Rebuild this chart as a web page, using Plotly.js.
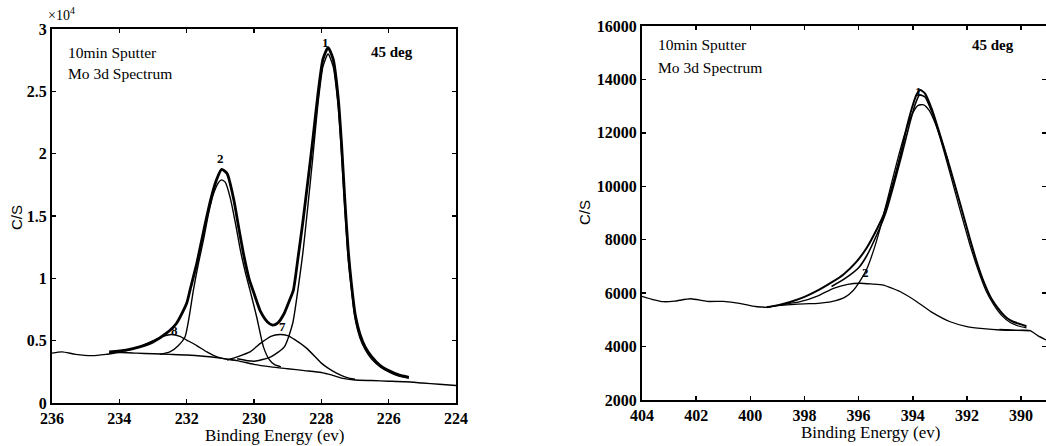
<!DOCTYPE html>
<html>
<head>
<meta charset="utf-8">
<script src="https://cdn.plot.ly/plotly-3.0.1.min.js"></script>
<style>html,body{margin:0;padding:0;background:#fff;}#chart{width:1046px;height:446px;}</style>
</head>
<body>
<div id="chart"></div>
<script>
// ---------- Left panel: Mo 3d (C/S in units of 10^4) ----------
const L_bgE = [236.0,235.7,235.3,234.8,234.4,234.0,233.5,233.0,232.5,232.0,231.5,231.0,230.5,230.0,229.5,229.0,228.5,228.0,227.7,227.4,227.0,226.5,226.0,225.5,225.0,224.5,224.0];
const L_bgY = [0.40,0.41,0.39,0.38,0.39,0.405,0.40,0.395,0.39,0.385,0.375,0.36,0.34,0.31,0.29,0.275,0.26,0.245,0.225,0.20,0.185,0.18,0.175,0.17,0.16,0.15,0.14];

const L_envE = [234.3,233.8,233.4,233.0,232.6,232.3,232.0,231.9,231.7,231.55,231.4,231.25,231.1,230.96,230.8,230.6,230.45,230.3,230.15,230.0,229.8,229.6,229.45,229.3,229.1,228.95,228.83,228.7,228.55,228.4,228.25,228.1,227.95,227.8,227.65,227.5,227.4,227.3,227.2,227.1,227.0,226.85,226.7,226.5,226.25,226.0,225.7,225.4];
const L_envY = [0.41,0.425,0.45,0.49,0.56,0.64,0.80,0.906,1.12,1.31,1.50,1.67,1.80,1.874,1.84,1.63,1.40,1.18,1.00,0.88,0.73,0.65,0.625,0.64,0.72,0.82,0.906,1.15,1.45,1.78,2.12,2.48,2.76,2.85,2.76,2.45,2.08,1.62,1.22,0.94,0.72,0.55,0.45,0.37,0.30,0.26,0.225,0.205];

const L_p1E = [230.5,230.0,229.5,229.1,228.85,228.7,228.55,228.4,228.25,228.1,227.95,227.8,227.65,227.5,227.4,227.3,227.2,227.1,227.0,226.85,226.7,226.5,226.25,226.0,225.7,225.4];
const L_p1Y = [0.355,0.335,0.37,0.45,0.64,0.90,1.20,1.58,1.98,2.40,2.70,2.80,2.70,2.38,2.00,1.55,1.15,0.90,0.68,0.52,0.43,0.35,0.29,0.25,0.215,0.20];

const L_p2E = [232.8,232.5,232.25,232.05,231.92,231.8,231.65,231.5,231.35,231.2,231.05,230.96,230.85,230.7,230.55,230.4,230.25,230.12,229.92,229.72,229.55,229.4,229.2];
const L_p2Y = [0.39,0.41,0.46,0.53,0.70,0.906,1.12,1.31,1.52,1.68,1.77,1.79,1.77,1.64,1.44,1.22,1.04,0.906,0.69,0.45,0.35,0.31,0.29];

const L_p7E = [230.8,230.5,230.12,229.8,229.5,229.23,229.0,228.8,228.44,228.0,227.8,227.55,227.3,227.15,227.0];
const L_p7Y = [0.345,0.37,0.41,0.48,0.535,0.55,0.54,0.51,0.44,0.32,0.28,0.24,0.21,0.198,0.19];

const L_p8E = [234.3,233.8,233.4,233.0,232.7,232.45,232.2,232.0,231.7,231.4,231.1,230.8,230.5];
const L_p8Y = [0.405,0.42,0.45,0.50,0.535,0.55,0.535,0.505,0.46,0.41,0.37,0.35,0.34];

const L_labels = ["1","2","8","7"];
const L_labE = [227.89,231.0,232.35,229.14];
const L_labY = [2.89,1.96,0.585,0.61];

// ---------- Right panel (C/S) ----------
const R_rawE = [404.0,403.6,403.2,402.8,402.2,401.6,401.0,400.4,399.8,399.4];
const R_rawY = [5880,5760,5680,5700,5790,5690,5690,5620,5500,5470];
const R_tailE = [390.8,390.2,389.67,389.4,389.08];
const R_tailY = [4640,4610,4595,4420,4247];

const R_envE = [399.4,398.9,398.5,398.0,397.42,397.0,396.56,396.1,395.7,395.3,395.09,394.8,394.47,394.2,393.98,393.85,393.73,393.55,393.3,393.0,392.63,392.25,391.88,391.6,391.39,391.1,390.77,390.5,390.29,390.0,389.8];
const R_envY = [5470,5570,5680,5860,6150,6400,6700,7150,7700,8450,8900,9850,11100,12300,13100,13450,13600,13480,12900,11950,10700,9350,8000,7050,6450,5800,5330,5050,4930,4830,4760];

const R_dataE = [397.0,396.5,396.0,395.7,395.3,395.0,394.7,394.4,394.1,393.9,393.75,393.55,393.3,393.0,392.7];
const R_dataY = [6250,6550,6950,7400,8250,9000,10050,11200,12400,13100,13420,13350,12800,11900,10950];

const R_p1E = [399.4,398.9,398.5,398.0,397.5,397.0,396.5,396.2,395.95,395.7,395.4,395.2,394.9,394.6,394.3,394.0,393.8,393.6,393.4,393.15,392.9,392.6,392.25,391.9,391.6,391.3,391.0,390.7,390.4,390.1,389.8];
const R_p1Y = [5470,5540,5570,5600,5620,5680,5850,6100,6450,6900,7750,8450,9650,10850,11950,12750,13030,13050,12850,12300,11500,10400,9100,7850,6900,6100,5550,5150,4900,4770,4700];

const R_p2E = [399.4,398.9,398.16,397.5,396.93,396.4,395.95,395.5,395.09,394.8,394.47,393.85,393.24,392.62,392.0,391.4,390.77,389.67];
const R_p2Y = [5470,5560,5680,5900,6180,6330,6370,6340,6300,6200,6060,5680,5250,4930,4750,4670,4620,4595];

const R_labels = ["1","2"];
const R_labE = [393.8,395.73];
const R_labY = [13560,6760];

const leftXTicks = [236,234,232,230,228,226,224];
const leftYTicks = [0,0.5,1,1.5,2,2.5,3];
const rightXTicks = [404,402,400,398,396,394,392,390];
const rightYTicks = [2000,4000,6000,8000,10000,12000,14000,16000];

// ---------- build ----------
const W = 1046, H = 446;
const PX = x => x / W, PY = y => 1 - y / H;
const serif = "Liberation Serif, Times New Roman, serif";
const bold = v => "<b>" + v + "</b>";

function line(x, y, w, xa, ya) {
  return {x: x, y: y, type: "scatter", mode: "lines", xaxis: xa, yaxis: ya,
    line: {color: "#000", width: w, shape: "spline", smoothing: 0.6}, hoverinfo: "skip", showlegend: false};
}

const traces = [
  line(L_bgE, L_bgY, 1.4, "x", "y"),
  line(L_p8E, L_p8Y, 1.4, "x", "y"),
  line(L_p7E, L_p7Y, 1.4, "x", "y"),
  line(L_p2E, L_p2Y, 1.4, "x", "y"),
  line(L_p1E, L_p1Y, 1.4, "x", "y"),
  line(L_envE, L_envY, 2.8, "x", "y"),
  line(R_rawE, R_rawY, 1.3, "x2", "y2"),
  line(R_tailE, R_tailY, 1.3, "x2", "y2"),
  line(R_p2E, R_p2Y, 1.3, "x2", "y2"),
  line(R_p1E, R_p1Y, 1.3, "x2", "y2"),
  line(R_dataE, R_dataY, 1.6, "x2", "y2"),
  line(R_envE, R_envY, 2.0, "x2", "y2")
];

const axisBase = {showline: true, mirror: "ticks", linecolor: "#000", linewidth: 2, ticks: "inside",
  ticklen: 4, tickwidth: 1.5, tickcolor: "#000", showgrid: false, zeroline: false, tickmode: "array",
  tickfont: {family: serif, size: 16, color: "#000"}, fixedrange: true};

const annotations = [];
function ann(text, x, y, opts) {
  annotations.push(Object.assign({text: text, x: PX(x), y: PY(y), xref: "paper", yref: "paper",
    showarrow: false, font: {family: serif, size: 15.5, color: "#000"}, xanchor: "left", yanchor: "middle"}, opts || {}));
}
ann("×10<sup>4</sup>", 46, 14, {font: {family: serif, size: 14, color: "#000"}});
ann("10min Sputter", 66, 52);
ann("Mo 3d Spectrum", 66, 73);
ann("<b>45 deg</b>", 392, 52, {xanchor: "center", font: {family: serif, size: 15, color: "#000"}});
ann("10min Sputter", 656, 45);
ann("Mo 3d Spectrum", 656, 67);
ann("<b>45 deg</b>", 993, 45, {xanchor: "center", font: {family: serif, size: 15, color: "#000"}});
ann("C/S", 16, 218, {xanchor: "center", textangle: -90, font: {family: "Liberation Sans, Arial, sans-serif", size: 15, color: "#000"}});
ann("C/S", 585, 213, {xanchor: "center", textangle: -90, font: {family: "Liberation Sans, Arial, sans-serif", size: 15, color: "#000"}});
ann("Binding Energy (ev)", 274, 435, {xanchor: "center", font: {family: serif, size: 17, color: "#000"}});
ann("Binding Energy (ev)", 870, 432, {xanchor: "center", font: {family: serif, size: 17, color: "#000"}});

for (let i = 0; i < L_labels.length; i++) {
  annotations.push({text: bold(L_labels[i]), x: L_labE[i], y: L_labY[i], xref: "x", yref: "y", showarrow: false,
    font: {family: serif, size: 13, color: "#000"}, yanchor: "middle"});
}
for (let i = 0; i < R_labels.length; i++) {
  annotations.push({text: bold(R_labels[i]), x: R_labE[i], y: R_labY[i], xref: "x2", yref: "y2", showarrow: false,
    font: {family: serif, size: 13, color: "#000"}, yanchor: "middle"});
}

const layout = {
  width: W, height: H, margin: {l: 0, r: 0, t: 0, b: 0}, paper_bgcolor: "#fff", plot_bgcolor: "#fff",
  showlegend: false,
  xaxis: Object.assign({}, axisBase, {domain: [PX(52), PX(456)], range: [236, 224], tickvals: leftXTicks, ticktext: leftXTicks.map(bold), anchor: "y"}),
  yaxis: Object.assign({}, axisBase, {domain: [PY(403), PY(29)], range: [0, 3], tickvals: leftYTicks, ticktext: leftYTicks.map(bold), anchor: "x"}),
  xaxis2: Object.assign({}, axisBase, {domain: [PX(642), 1], range: [404, 389.08], tickvals: rightXTicks, ticktext: rightXTicks.map(bold), anchor: "y2"}),
  yaxis2: Object.assign({}, axisBase, {domain: [PY(400), PY(26)], range: [2000, 16000], tickvals: rightYTicks, ticktext: rightYTicks.map(bold), anchor: "x2"}),
  annotations: annotations
};

Plotly.newPlot("chart", traces, layout, {displayModeBar: false, staticPlot: true});
</script>
</body>
</html>
